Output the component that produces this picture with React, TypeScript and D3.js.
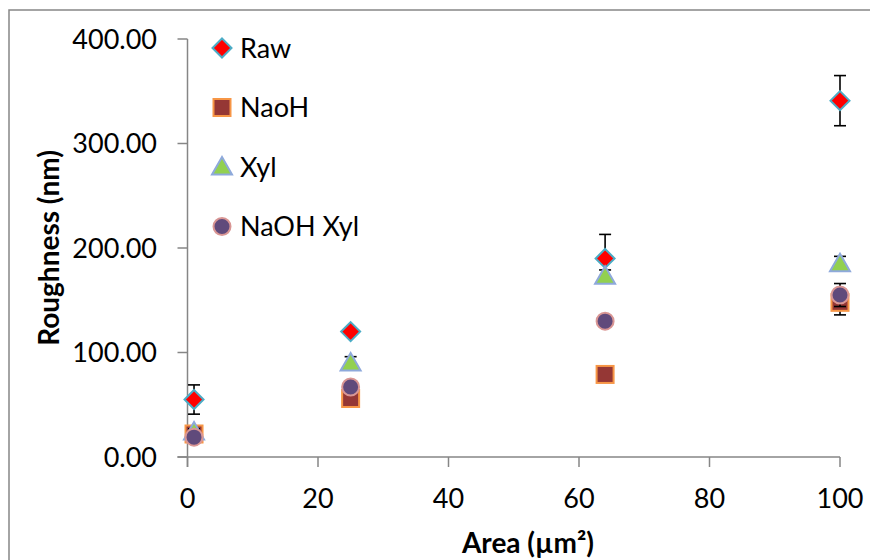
import React from "react";
import * as d3 from "d3";

const areas = [1, 25, 64, 100];
const seriesNames = ["Raw", "NaoH", "Xyl", "NaOH Xyl"];
const rawValues = [55, 120, 190, 341];
const rawErrors = [14, 3, 23, 24];
const naohValues = [22, 56, 79, 148];
const naohErrors = [3, 4, 3, 12];
const xylValues = [24, 90, 173, 185];
const xylErrors = [3, 6, 6, 7];
const naohXylValues = [19, 67, 130, 155];
const naohXylErrors = [2, 3, 3, 11];
const yTicks = [0, 100, 200, 300, 400];
const xTicks = [0, 20, 40, 60, 80, 100];

const W = 870;
const H = 560;
const FONT = "Lato, 'Open Sans', sans-serif";

type Shape = "diamond" | "square" | "triangle" | "circle";
const styles: { shape: Shape; fill: string; stroke: string }[] = [
  { shape: "diamond", fill: "#FF0000", stroke: "#4BACC6" },
  { shape: "square", fill: "#953735", stroke: "#F79646" },
  { shape: "triangle", fill: "#92D050", stroke: "#8EA9DB" },
  { shape: "circle", fill: "#604A7B", stroke: "#D99694" },
];

function Marker({ shape, fill, stroke, cx, cy }: { shape: Shape; fill: string; stroke: string; cx: number; cy: number }) {
  const sw = 2;
  if (shape === "diamond") {
    const r = 9.5;
    return <path d={`M${cx},${cy - r}L${cx + r},${cy}L${cx},${cy + r}L${cx - r},${cy}Z`} fill={fill} stroke={stroke} strokeWidth={sw} />;
  }
  if (shape === "square") {
    const s = 8.5;
    return <rect x={cx - s} y={cy - s} width={2 * s} height={2 * s} fill={fill} stroke={stroke} strokeWidth={sw} />;
  }
  if (shape === "triangle") {
    const hw = 10;
    return <path d={`M${cx},${cy - 10}L${cx + hw},${cy + 7.5}L${cx - hw},${cy + 7.5}Z`} fill={fill} stroke={stroke} strokeWidth={sw} />;
  }
  return <circle cx={cx} cy={cy} r={8.5} fill={fill} stroke={stroke} strokeWidth={sw} />;
}

export default function App() {
  const x = d3.scaleLinear().domain([0, 100]).range([187.5, 840]);
  const y = d3.scaleLinear().domain([0, 400]).range([457, 39]);
  const fmt = d3.format(".2f");
  const values = [rawValues, naohValues, xylValues, naohXylValues];
  const errors = [rawErrors, naohErrors, xylErrors, naohXylErrors];
  const axisColor = "#868686";

  return (
    <svg width={W} height={H} style={{ position: "absolute", left: 0, top: 0, background: "#fff" }}>
      <rect x={9} y={10} width={W + 20} height={H + 20} fill="#fff" stroke={axisColor} strokeWidth={1.5} />
      {/* axes */}
      <line x1={x(0)} x2={x(0)} y1={y(400)} y2={y(0) + 10} stroke={axisColor} strokeWidth={1.5} />
      <line x1={x(0) - 10} x2={x(100)} y1={y(0)} y2={y(0)} stroke={axisColor} strokeWidth={1.5} />
      {yTicks.map((t) => (
        <g key={"y" + t}>
          <line x1={x(0) - 10} x2={x(0)} y1={y(t)} y2={y(t)} stroke={axisColor} strokeWidth={1.5} />
          <text x={157} y={y(t)} dy="0.36em" textAnchor="end" fontFamily={FONT} fontSize={27} fill="#000">
            {fmt(t)}
          </text>
        </g>
      ))}
      {xTicks.map((t) => (
        <g key={"x" + t}>
          <line x1={x(t)} x2={x(t)} y1={y(0)} y2={y(0) + 10} stroke={axisColor} strokeWidth={1.5} />
          <text x={x(t)} y={508} textAnchor="middle" fontFamily={FONT} fontSize={27} fill="#000">
            {t}
          </text>
        </g>
      ))}
      <text x={528} y={553} textAnchor="middle" fontFamily={FONT} fontSize={28} fontWeight="bold" fill="#000">
        Area (µm²)
      </text>
      <text transform={`translate(59,${(y(0) + y(400)) / 2}) rotate(-90)`} textAnchor="middle" fontFamily={FONT} fontSize={28} fontWeight="bold" fill="#000">
        Roughness (nm)
      </text>
      {/* series */}
      {values.map((vals, si) => (
        <g key={"s" + si}>
          {vals.map((v, i) => {
            const e = errors[si][i];
            const cx = x(areas[i]);
            return (
              <g key={"e" + i} stroke="#000" strokeWidth={1.6}>
                <line x1={cx} x2={cx} y1={y(v - e)} y2={y(v + e)} />
                <line x1={cx - 6} x2={cx + 6} y1={y(v - e)} y2={y(v - e)} />
                <line x1={cx - 6} x2={cx + 6} y1={y(v + e)} y2={y(v + e)} />
              </g>
            );
          })}
          {vals.map((v, i) => (
            <Marker key={"m" + i} {...styles[si]} cx={x(areas[i])} cy={y(v)} />
          ))}
        </g>
      ))}
      {/* legend */}
      {seriesNames.map((n, i) => (
        <g key={"l" + n}>
          <Marker {...styles[i]} cx={222} cy={48 + i * 59.5} />
          <text x={240} y={48 + i * 59.5} dy="0.36em" fontFamily={FONT} fontSize={27} fill="#000">
            {n}
          </text>
        </g>
      ))}
    </svg>
  );
}
